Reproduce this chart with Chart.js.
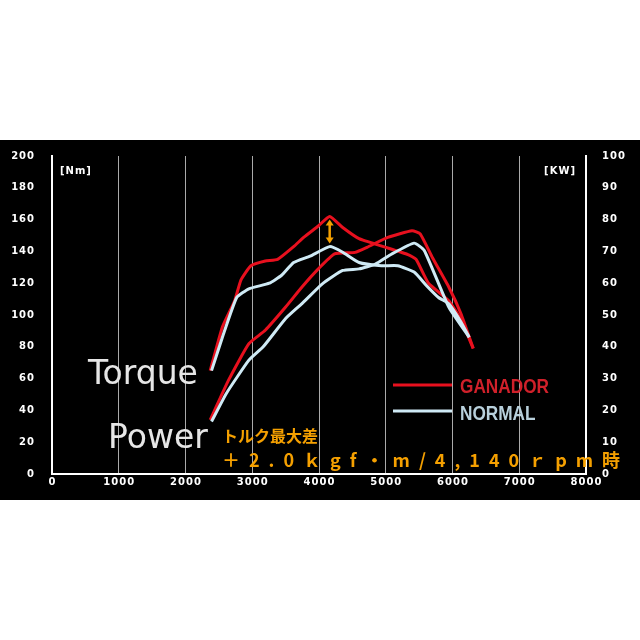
<!DOCTYPE html>
<html><head><meta charset="utf-8">
<script src="https://cdn.jsdelivr.net/npm/chart.js@4"></script>
<style>html,body{margin:0;background:#fff;width:640px;height:640px;overflow:hidden}
#wrap{position:absolute;left:0;top:140px;width:640px;height:360px;background:#000}</style>
</head><body><div id="wrap"><canvas id="c" width="640" height="360"></canvas></div>
<script>
const xTicks=[0,1000,2000,3000,4000,5000,6000,7000,8000];
const leftTicks=[0,20,40,60,80,100,120,140,160,180,200];
const rightTicks=[0,10,20,30,40,50,60,70,80,90,100];
const ganTorqueRpm=[2370,2553,2737,2830,2980,3195,3380,3620,3775,3990,4160,4355,4600,4966,5333,5455,5640,5944,6127,6310];
const ganTorque=[65,92.5,109,122,131,134,135,143,149,156,162,155,148,143,138,135,120,109,97,79];
const norTorqueRpm=[2390,2553,2767,2950,3256,3440,3620,3867,4160,4355,4600,4936,5180,5425,5608,5791,5944,6127,6250];
const norTorque=[65,86,111,116.5,120,125,133,137,143,139.5,133,131,131,127,118.6,111,107,95.6,86];
const ganPowerRpm=[2370,2645,2950,3195,3500,3745,3990,4233,4540,4720,5030,5394,5516,5700,5944,6127,6310];
const ganPower=[17,29.5,41,45.2,52.5,58.8,64.5,69.2,69.7,71.3,74.4,76.5,75.5,68,58.8,50.4,39.5];
const norPowerRpm=[2390,2614,2950,3164,3500,3745,4050,4355,4600,4845,5090,5425,5577,5944,6250];
const norPower=[16.5,25.4,35.8,40,48.9,53.6,59.8,64,64.5,66,69.2,72.6,70.3,52.5,43];
const RED='#e8101e', BLUE='#cfeaf5';
const pts=(xs,ys)=>xs.map((x,i)=>({x,y:ys[i]}));
const sp=s=>String(s).split('').join('\u200a');
const ds=(d,c,ax)=>({data:d,borderColor:c,borderWidth:3,pointRadius:0,tension:0.15,yAxisID:ax,fill:false});
const deco={id:'deco',afterDraw(ch){
  const g=ch.ctx,x=ch.scales.x,y=ch.scales.y;
  g.save();
  g.fillStyle='#fff';g.font='bold 10px "DejaVu Sans"';g.textBaseline='middle';
  g.textAlign='left';g.fillText('[\u200aN\u200am\u200a]',60,31);
  g.textAlign='right';g.fillText('[\u200aK\u200aW\u200a]',575,31);
  const ax=x.getPixelForValue(4160),a1=y.getPixelForValue(160),a2=y.getPixelForValue(145);
  g.strokeStyle='#f5a000';g.fillStyle='#f5a000';g.lineWidth=2.5;
  g.beginPath();g.moveTo(ax,a1+4);g.lineTo(ax,a2-4);g.stroke();
  g.beginPath();g.moveTo(ax,a1);g.lineTo(ax-4,a1+6);g.lineTo(ax+4,a1+6);g.fill();
  g.beginPath();g.moveTo(ax,a2);g.lineTo(ax-4,a2-6);g.lineTo(ax+4,a2-6);g.fill();
  g.fillStyle='#e6e6e6';g.font='33px "DejaVu Sans"';g.textAlign='left';g.textBaseline='alphabetic';
  g.fillText('Torque',88,244);g.fillText('Power',108,308);
  g.fillStyle='#f5a000';g.font='bold 16px "Noto Sans CJK JP"';
  g.fillText('トルク最大差',222,302);
  g.font='bold 18px "Noto Sans CJK JP"';
  g.fillText('＋2.0ｋgf・m/4,140ｒpm時'.split('').join('\u2002'),222,327);
  g.lineWidth=3;g.strokeStyle=RED;g.beginPath();g.moveTo(393,245);g.lineTo(452,245);g.stroke();
  g.strokeStyle=BLUE;g.beginPath();g.moveTo(393,271);g.lineTo(452,271);g.stroke();
  g.font='bold 21px "Liberation Sans"';
  g.save();g.translate(460,0);g.scale(0.82,1);
  g.fillStyle='#d0202a';g.fillText('GANADOR',0,253);
  g.fillStyle='#b8d0dc';g.fillText('NORMAL',0,280);
  g.restore();
  g.restore();
}};
new Chart(document.getElementById('c'),{
  type:'line',
  data:{datasets:[ds(pts(norTorqueRpm,norTorque),BLUE,'y'),ds(pts(norPowerRpm,norPower),BLUE,'y1'),
    ds(pts(ganTorqueRpm,ganTorque),RED,'y'),ds(pts(ganPowerRpm,ganPower),RED,'y1')]},
  options:{responsive:false,animation:false,layout:{padding:{top:15,right:0,left:0,bottom:0}},
    plugins:{legend:{display:false},tooltip:{enabled:false}},
    scales:{
      x:{type:'linear',min:0,max:8000,afterBuildTicks:s=>{s.ticks=xTicks.map(v=>({value:v}))},
        afterFit:s=>{s.height=26},
        ticks:{color:'#fff',font:{family:'DejaVu Sans',weight:'bold',size:10},padding:2,maxRotation:0,callback:v=>sp(v)},
        grid:{color:'#aaa',lineWidth:1,drawTicks:false},border:{color:'#fff',width:2}},
      y:{position:'left',min:0,max:200,afterBuildTicks:s=>{s.ticks=leftTicks.map(v=>({value:v}))},
        afterFit:s=>{s.width=52},
        ticks:{color:'#fff',font:{family:'DejaVu Sans',weight:'bold',size:10},padding:10,callback:v=>sp(v)},
        grid:{display:false},border:{color:'#fff',width:2}},
      y1:{position:'right',min:0,max:100,afterBuildTicks:s=>{s.ticks=rightTicks.map(v=>({value:v}))},
        afterFit:s=>{s.width=54},
        ticks:{color:'#fff',font:{family:'DejaVu Sans',weight:'bold',size:10},padding:8,callback:v=>sp(v)},
        grid:{display:false},border:{color:'#fff',width:2}}
    }},
  plugins:[deco]
});
</script></body></html>
